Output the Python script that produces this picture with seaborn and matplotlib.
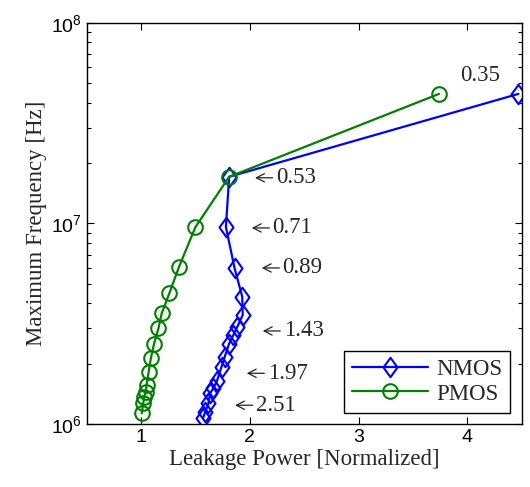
import matplotlib
matplotlib.use("Agg")
import matplotlib.pyplot as plt
from matplotlib.path import Path
import seaborn as sns
from matplotlib.ticker import LogLocator, NullFormatter, FixedLocator

# gate voltage steps (labels), leakage (normalized) and max frequency
nmos_leak = [4.47, 1.81, 1.78, 1.86, 1.93, 1.935, 1.886, 1.849, 1.81, 1.77,
             1.74, 1.696, 1.665, 1.634, 1.62, 1.59, 1.57]
nmos_freq = [4.43e7, 1.71e7, 9.6e6, 5.98e6, 4.32e6, 3.50e6, 3.06e6, 2.78e6,
             2.52e6, 2.17e6, 1.93e6, 1.63e6, 1.51e6, 1.42e6, 1.27e6, 1.15e6, 1.07e6]
pmos_leak = [3.74, 1.81, 1.50, 1.35, 1.26, 1.19, 1.16, 1.12, 1.09, 1.07,
             1.05, 1.045, 1.03, 1.02, 1.006]
pmos_freq = [4.43e7, 1.71e7, 9.6e6, 6.1e6, 4.49e6, 3.57e6, 3.0e6, 2.52e6,
             2.13e6, 1.82e6, 1.57e6, 1.45e6, 1.37e6, 1.27e6, 1.13e6]

labels = ["0.35", "0.53", "0.71", "0.89", "1.43", "1.97", "2.51"]
label_arrow = [False, True, True, True, True, True, True]
label_x = [3.935, 2.048, 2.018, 2.110, 2.119, 1.972, 1.864]
label_y = [5.45e7, 1.69e7, 9.5e6, 6.0e6, 2.91e6, 1.79e6, 1.24e6]

sns.set_style("ticks")
plt.rcParams["font.family"] = ["Liberation Sans", "DejaVu Sans"]
plt.rcParams["mathtext.fontset"] = "custom"
plt.rcParams["mathtext.rm"] = "Liberation Sans"
plt.rcParams["mathtext.it"] = "Liberation Sans:italic"
serif = ["Liberation Serif", "DejaVu Serif"]
fs = 16.5

# matlab-like diamond (wider than matplotlib's thin diamond)
diamond = Path([(0, 1), (0.72, 0), (0, -1), (-0.72, 0), (0, 1)], closed=True)

fig = plt.figure(figsize=(5.3, 4.87), dpi=100)
ax = fig.add_axes([0.1636, 0.1294, 0.8207, 0.8234])

sns.lineplot(x=nmos_leak, y=nmos_freq, sort=False, estimator=None, ax=ax,
             color="#0000ff", lw=1.6, marker=diamond, ms=14, mfc="none",
             mec="#0000ff", mew=1.5, label="NMOS")
sns.lineplot(x=pmos_leak, y=pmos_freq, sort=False, estimator=None, ax=ax,
             color="#008000", lw=1.6, marker="o", ms=10.5, mfc="none",
             mec="#008000", mew=1.5, label="PMOS")

ax.set_yscale("log")
ax.set_xlim(0.5, 4.5)
ax.set_ylim(1e6, 1e8)
ax.xaxis.set_major_locator(FixedLocator([1, 2, 3, 4]))
ax.yaxis.set_major_locator(LogLocator(base=10, numticks=10))
ax.yaxis.set_minor_locator(LogLocator(base=10, subs=range(2, 10), numticks=20))
ax.yaxis.set_minor_formatter(NullFormatter())
ax.tick_params(which="both", direction="in", top=True, right=True, colors="black",
               labelsize=14)
ax.tick_params(which="major", length=5, width=0.8)
ax.tick_params(which="minor", length=3, width=0.8)
for s in ax.spines.values():
    s.set_color("black")
    s.set_linewidth(1.0)

# label text with a long thin arrow pointing back at the curve
for t, a, x, y in zip(labels, label_arrow, label_x, label_y):
    if a:
        ax.annotate(t, xy=(x, y), xytext=(15, 0), textcoords="offset points",
                    family=serif, fontsize=fs, va="center", ha="left",
                    arrowprops=dict(arrowstyle="->,head_length=0.35,head_width=0.18",
                                    color="#222222", lw=0.9, shrinkA=0, shrinkB=0,
                                    relpos=(0.02, 0.5)))
    else:
        ax.text(x, y, t, family=serif, fontsize=fs, va="center", ha="left")

ax.set_xlabel("Leakage Power [Normalized]", family=serif, fontsize=fs, labelpad=2)
ax.set_ylabel("Maximum Frequency [Hz]", family=serif, fontsize=fs, labelpad=3)

leg = ax.legend(loc="lower right", prop={"family": serif, "size": fs},
                handlelength=3.3, fancybox=False, edgecolor="black",
                framealpha=1, borderaxespad=0.5, labelspacing=0.15,
                handletextpad=0.35, borderpad=0.35)
leg.get_frame().set_linewidth(1.0)

fig.savefig("out.png", dpi=100)
